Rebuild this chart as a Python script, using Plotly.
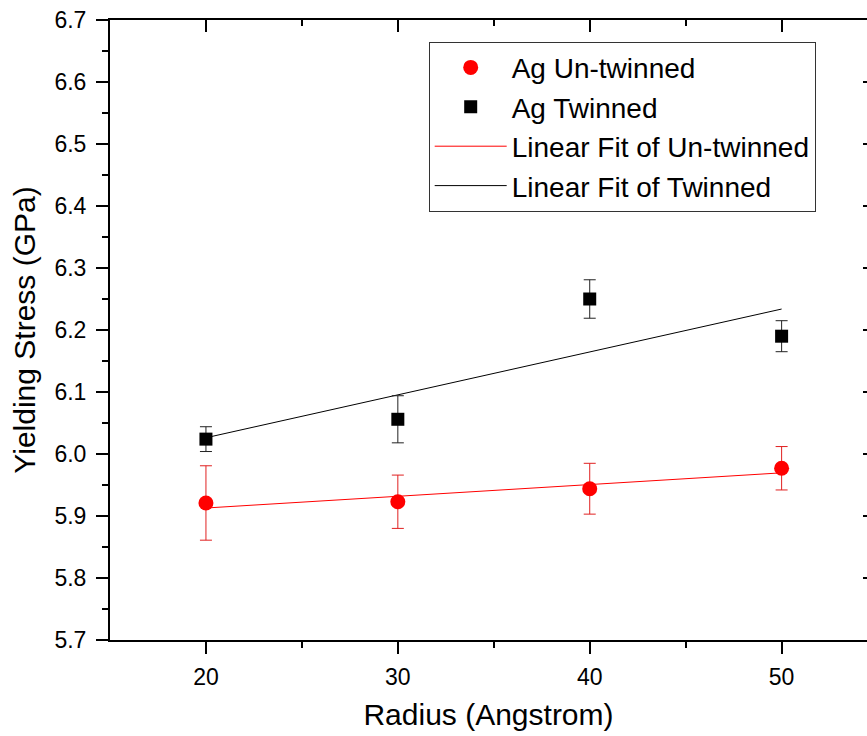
import numpy as np
import plotly.graph_objects as go

# Yield stress of Ag nanowires vs. radius
radius = [20, 30, 40, 50]
untwinned_stress = [5.921, 5.923, 5.944, 5.977]
untwinned_err = [0.060, 0.043, 0.041, 0.035]
twinned_stress = [6.024, 6.056, 6.250, 6.190]
twinned_err = [0.020, 0.038, 0.031, 0.025]

x_ticks = [20, 30, 40, 50]
x_minor = [25, 35, 45]
y_ticks = [5.7, 5.8, 5.9, 6.0, 6.1, 6.2, 6.3, 6.4, 6.5, 6.6, 6.7]
y_tick_text = ["5.7", "5.8", "5.9", "6.0", "6.1", "6.2", "6.3", "6.4", "6.5", "6.6", "6.7"]
y_minor = [5.75, 5.85, 5.95, 6.05, 6.15, 6.25, 6.35, 6.45, 6.55, 6.65]

X_RANGE = [15, 54.45]
Y_RANGE = [5.7, 6.7]
FONT = "Liberation Sans"


def linear_fit(x, y):
    coef = np.polyfit(x, y, 1)
    xs = np.array([min(x), max(x)], dtype=float)
    return xs, np.polyval(coef, xs)


fit_u_x, fit_u_y = linear_fit(radius, untwinned_stress)
fit_t_x, fit_t_y = linear_fit(radius, twinned_stress)

fig = go.Figure()

fig.add_trace(go.Scatter(
    x=fit_u_x, y=fit_u_y, mode="lines", name="Linear Fit of Un-twinned",
    line=dict(color="#ff0000", width=1), legendrank=3,
))
fig.add_trace(go.Scatter(
    x=fit_t_x, y=fit_t_y, mode="lines", name="Linear Fit of Twinned",
    line=dict(color="#000000", width=1), legendrank=4,
))
fig.add_trace(go.Scatter(
    x=radius, y=untwinned_stress, mode="markers", name="Ag Un-twinned",
    marker=dict(symbol="circle", size=15, color="#ff0000"),
    error_y=dict(type="data", array=untwinned_err, color="#e02020",
                 thickness=1, width=6),
    legendrank=1,
))
fig.add_trace(go.Scatter(
    x=radius, y=twinned_stress, mode="markers", name="Ag Twinned",
    marker=dict(symbol="square", size=13, color="#000000"),
    error_y=dict(type="data", array=twinned_err, color="#222222",
                 thickness=1, width=6),
    legendrank=2,
))
# empty trace so the top / right tick axes are laid out
fig.add_trace(go.Scatter(x=[], y=[], xaxis="x2", yaxis="y2",
                         showlegend=False, hoverinfo="skip"))

axis_common = dict(showgrid=False, zeroline=False, color="black")

fig.update_layout(
    width=867, height=736,
    margin=dict(l=110, r=0, t=20, b=96),
    paper_bgcolor="white", plot_bgcolor="white",
    font=dict(family=FONT, color="black"),
    xaxis=dict(
        **axis_common, range=X_RANGE, tickvals=x_ticks,
        ticks="outside", ticklen=12, tickwidth=2, tickcolor="black",
        minor=dict(tickvals=x_minor, ticks="outside", ticklen=6,
                   tickwidth=2, tickcolor="black"),
        showline=True, linewidth=2, linecolor="black", mirror=True,
        tickfont=dict(size=23, family=FONT), ticklabelstandoff=3,
        title=dict(text="Radius (Angstrom)", font=dict(size=30, family=FONT),
                   standoff=15),
    ),
    yaxis=dict(
        **axis_common, range=Y_RANGE, tickvals=y_ticks, ticktext=y_tick_text,
        ticks="outside", ticklen=12, tickwidth=2, tickcolor="black",
        minor=dict(tickvals=y_minor, ticks="outside", ticklen=6,
                   tickwidth=2, tickcolor="black"),
        showline=True, linewidth=2, linecolor="black", mirror=False,
        tickfont=dict(size=23, family=FONT), ticklabelstandoff=5,
        title=dict(text="Yielding Stress (GPa)",
                   font=dict(size=30, family=FONT), standoff=10),
    ),
    xaxis2=dict(
        **axis_common, overlaying="x", side="top", anchor="y",
        range=X_RANGE, tickvals=x_ticks, ticks="inside", ticklen=12,
        tickwidth=2, tickcolor="black",
        minor=dict(tickvals=x_minor, ticks="inside", ticklen=6,
                   tickwidth=2, tickcolor="black"),
        showticklabels=False, showline=False,
    ),
    yaxis2=dict(
        **axis_common, overlaying="y", side="right", anchor="x",
        range=Y_RANGE, tickvals=y_ticks[1:-1], ticks="inside", ticklen=4,
        tickwidth=2, tickcolor="black",
        showticklabels=False, showline=False,
    ),
    legend=dict(
        x=0.421, y=0.965, xanchor="left", yanchor="top",
        bgcolor="white", bordercolor="#333333", borderwidth=1,
        font=dict(size=28, family=FONT), itemwidth=72, tracegroupgap=0,
    ),
    showlegend=True,
)

fig.write_html("out.html")
